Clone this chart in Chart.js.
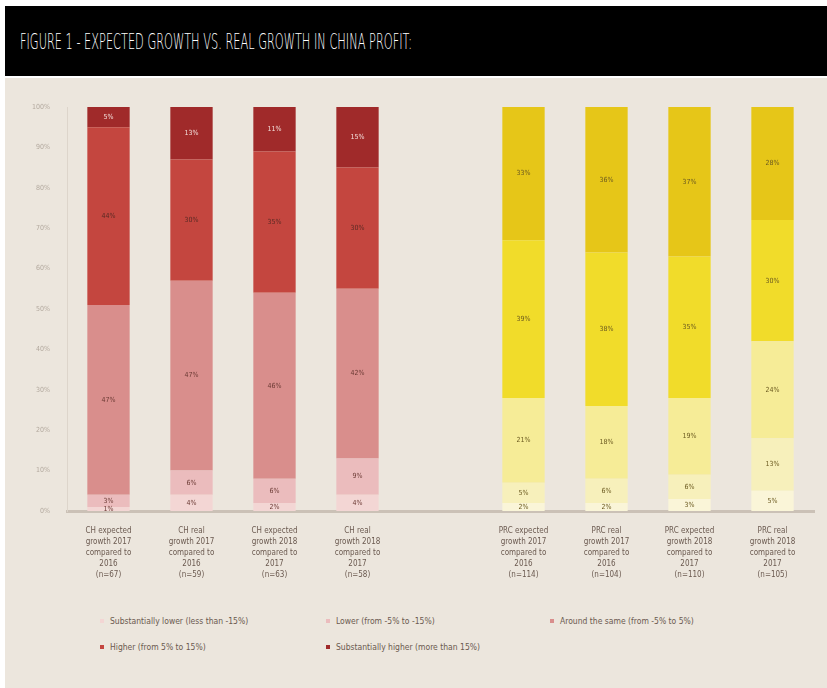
<!DOCTYPE html>
<html>
<head>
<meta charset="utf-8">
<script src="https://cdn.jsdelivr.net/npm/chart.js@4"></script>
<style>
body{margin:0;background:#fff;width:827px;height:688px;overflow:hidden;position:relative;font-family:"DejaVu Sans Condensed","DejaVu Sans",sans-serif}
#head{position:absolute;left:5px;top:6px;width:822px;height:70px;background:#000}
#head h1{margin:0;position:absolute;left:15px;top:24px;color:#fff;font:200 21px "DejaVu Sans",sans-serif;white-space:nowrap;transform-origin:0 0}
#panel{position:absolute;left:5px;top:78px;width:822px;height:610px;background:#ece6dd}
#wrap{position:absolute;left:5px;top:78px;width:822px;height:520px}
#leg{position:absolute;left:100px;top:616px;display:grid;grid-template-columns:226px 224px 220px;row-gap:16px;font-size:8.5px;color:#6b5a50}
#leg span{display:flex;align-items:center;white-space:nowrap}
#leg i{display:inline-block;width:4px;height:4px;margin-right:6px}
</style>
</head>
<body>
<div id="head"><h1 id="tit">FIGURE 1 - EXPECTED GROWTH VS. REAL GROWTH IN CHINA PROFIT:</h1></div>
<div id="panel"></div>
<div id="wrap"><canvas id="c"></canvas></div>
<div id="leg"></div>
<script>
const categorias=[
  ['CH expected','growth 2017','compared to','2016','(n=67)'],
  ['CH real','growth 2017','compared to','2016','(n=59)'],
  ['CH expected','growth 2018','compared to','2017','(n=63)'],
  ['CH real','growth 2018','compared to','2017','(n=58)'],
  '',
  ['PRC expected','growth 2017','compared to','2016','(n=114)'],
  ['PRC real','growth 2017','compared to','2016','(n=104)'],
  ['PRC expected','growth 2018','compared to','2017','(n=110)'],
  ['PRC real','growth 2018','compared to','2017','(n=105)']
];
const series=['Substantially lower (less than -15%)','Lower (from -5% to -15%)','Around the same (from -5% to 5%)','Higher (from 5% to 15%)','Substantially higher (more than 15%)'];
const subLower =[1,4,2,4,null,2,2,3,5];
const lower    =[3,6,6,9,null,5,6,6,13];
const same     =[47,47,46,42,null,21,18,19,24];
const higher   =[44,30,35,30,null,39,38,35,30];
const subHigher=[5,13,11,15,null,33,36,37,28];
const valores=[subLower,lower,same,higher,subHigher];
const yTicks=[0,10,20,30,40,50,60,70,80,90,100];

const corCH=['#f3d6d4','#ebbcbd','#d98e8c','#c4463f','#a02a2a'];
const corPRC=['#faf5d8','#f7f0bb','#f6ec97','#f1dc2a','#e6c618'];

const tit=document.getElementById('tit');
tit.style.transform='scaleX('+(392/tit.offsetWidth)+')';

const datasets=series.map((s,k)=>({
  label:s,
  data:valores[k],
  backgroundColor:categorias.map((c,i)=>i<4?corCH[k]:corPRC[k]),
  borderWidth:0,
  categoryPercentage:1,
  barPercentage:0.51
}));

const rotulos={id:'rotulos',afterDatasetsDraw(ch){
  const g=ch.ctx;g.save();g.font='7px "DejaVu Sans Condensed",sans-serif';g.textAlign='center';g.textBaseline='middle';
  ch.data.datasets.forEach((d,k)=>{
    ch.getDatasetMeta(k).data.forEach((b,i)=>{
      const v=d.data[i];if(v==null)return;
      g.fillStyle=(k>=3&&i<4)?(k==4?'#f4e0dc':'#5a2a24'):(i<4?'#6b3a34':'#6b5a20');
      g.fillText(v+'%',b.x,(b.y+b.base)/2);
    });
  });
  g.restore();
}};

new Chart(document.getElementById('c'),{
  type:'bar',
  data:{labels:categorias,datasets},
  plugins:[rotulos],
  options:{
    responsive:true,maintainAspectRatio:false,animation:false,
    layout:{padding:{top:29,right:13,left:0,bottom:0}},
    plugins:{legend:{display:false},tooltip:{enabled:false}},
    scales:{
      x:{stacked:true,grid:{display:false},border:{color:'#cbc1b6',width:3},
        ticks:{color:'#6b5a50',font:{family:'DejaVu Sans Condensed',size:8,lineHeight:1.4},padding:6,maxRotation:0,autoSkip:false},
        afterFit(s){s.height=87}},
      y:{stacked:true,min:0,max:100,grid:{display:false},border:{color:'#ddd5cb',width:1},
        afterBuildTicks(s){s.ticks=yTicks.map(v=>({value:v}))},
        ticks:{color:'#b3a99e',font:{family:'DejaVu Sans Condensed',size:7},padding:9,callback:v=>v+'%'},
        afterFit(s){s.width=62}}
    }
  }
});

const leg=document.getElementById('leg');
[0,1,2,3,4].forEach(k=>{
  const sp=document.createElement('span');
  sp.innerHTML='<i style="background:'+corCH[k]+'"></i>'+series[k];
  leg.appendChild(sp);
});
</script>
</body>
</html>
